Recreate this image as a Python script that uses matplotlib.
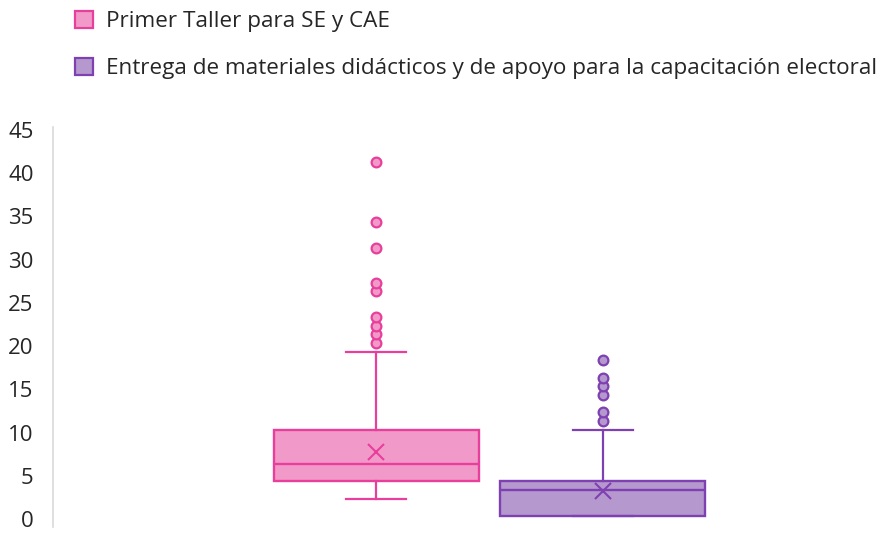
import matplotlib
matplotlib.use("Agg")
import matplotlib.pyplot as plt
from matplotlib.patches import Patch
from matplotlib.transforms import ScaledTranslation

plt.rcParams['font.family'] = ['Open Sans', 'DejaVu Sans']

series = ["Primer Taller para SE y CAE",
          "Entrega de materiales didácticos y de apoyo para la capacitación electoral"]
q1 = [4, 0]
median = [6, 3]
q3 = [10, 4]
whislo = [2, 0]
whishi = [19, 10]
means = [7.35, 2.85]
fliers = [[20, 21, 22, 23, 26, 27, 31, 34, 41],
          [11, 12, 14, 15, 16, 18]]
yticks = [0, 5, 10, 15, 20, 25, 30, 35, 40, 45]

fills = ["#F19AC9", "#B598CE"]
edges = ["#E83E9C", "#7F40B2"]

fig = plt.figure(figsize=(8.89, 5.33), dpi=100)
ax = fig.add_axes([53/889, 1-527/533, (885-53)/889, 400/533])

for i in range(2):
    st = dict(q1=q1[i], med=median[i], q3=q3[i], whislo=whislo[i], whishi=whishi[i],
              mean=means[i], fliers=fliers[i], label=series[i])
    ax.bxp([st], positions=[i], widths=0.905, showmeans=True, patch_artist=True,
           boxprops=dict(facecolor=fills[i], edgecolor=edges[i], linewidth=1.7),
           medianprops=dict(color=edges[i], linewidth=1.7),
           whiskerprops=dict(color=edges[i], linewidth=1.6),
           capprops=dict(color=edges[i], linewidth=1.6),
           capwidths=0.265,
           meanprops=dict(marker='x', markeredgecolor=edges[i], markersize=11, markeredgewidth=1.5),
           flierprops=dict(marker='o', markerfacecolor=fills[i], markeredgecolor=edges[i],
                           markersize=7, markeredgewidth=1.6))

ax.set_xlim(-1.428, 2.245)
ax.set_ylim(-1.27, 45.0)
ax.set_yticks(yticks)
ax.set_yticklabels([str(t) for t in yticks])
ax.set_xticks([])
for s in ['top', 'right', 'bottom']:
    ax.spines[s].set_visible(False)
ax.spines['left'].set_color('#D9D9D9')
ax.spines['left'].set_linewidth(1.2)
ax.tick_params(axis='y', length=0, pad=14, labelsize=16, labelcolor='#262626')
off = ScaledTranslation(0, -3/100, fig.dpi_scale_trans)
for lab in ax.get_yticklabels():
    lab.set_transform(lab.get_transform() + off)

handles = [Patch(facecolor=fills[i], edgecolor=edges[i], linewidth=1.6, label=series[i]) for i in range(2)]
fig.legend(handles=handles, loc='upper left', bbox_to_anchor=(70/889, 1-6/533),
           frameon=False, fontsize=16.2, labelspacing=1.15, handlelength=0.8, handleheight=0.8,
           handletextpad=0.6, labelcolor='#262626', borderaxespad=0, borderpad=0.2)

fig.savefig("out.png", dpi=100)
